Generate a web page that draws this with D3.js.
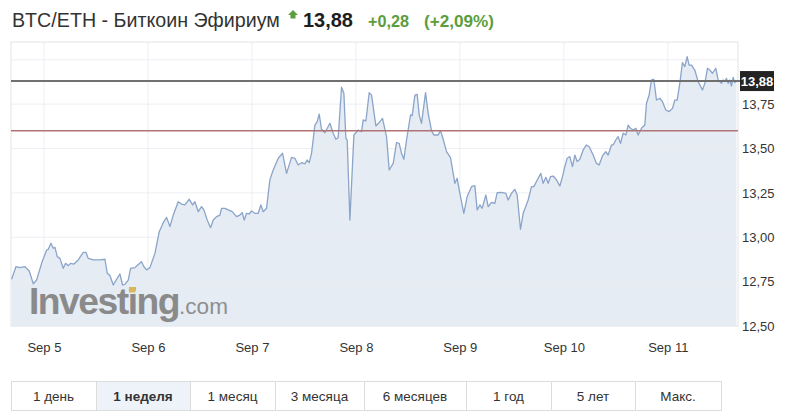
<!DOCTYPE html>
<html><head><meta charset="utf-8">
<script src="https://cdn.jsdelivr.net/npm/d3@7/dist/d3.min.js"></script>
<style>
body{margin:0;background:#fff;}
svg{display:block;font-family:"Liberation Sans",Arial,sans-serif;}
</style></head>
<body><svg id="c" width="800" height="416"></svg>
<script>
// ---- data (hours after 2018-09-05 00:00, price) ----
const hours = [-7.46,-6.46,-5.54,-4.38,-3.38,-2.46,-1.69,-0.54,0.62,1.0,1.62,2.15,2.54,3.08,3.69,4.46,5.0,5.62,6.15,6.92,7.92,9.08,9.69,10.23,11.38,12.92,14.08,14.62,15.23,16.0,16.77,17.54,18.15,18.69,19.46,20.0,21.0,21.77,22.54,23.08,23.69,24.46,25.62,26.62,27.54,28.31,29.08,29.85,31.0,31.77,32.54,33.54,34.31,34.85,35.62,36.38,36.92,37.69,38.46,39.08,39.85,40.62,41.0,41.77,42.54,43.46,44.46,45.23,45.77,46.23,46.77,47.38,47.92,48.69,49.46,50.08,50.62,51.38,52.15,52.92,54.08,55.08,56.0,57.15,57.92,58.69,59.46,60.23,60.77,61.23,61.77,62.54,63.08,63.54,64.08,64.85,66.0,66.77,67.38,67.92,68.69,69.23,69.69,70.0,70.62,71.54,72.54,73.31,73.69,74.31,75.08,75.62,76.62,77.54,78.15,79.08,79.69,80.62,81.38,82.0,82.54,83.08,83.69,84.62,85.0,85.62,86.15,86.62,87.15,88.08,88.69,89.46,90.0,91.0,91.54,92.15,92.92,93.85,94.46,94.85,95.38,96.0,96.92,97.69,98.69,99.46,100.0,100.62,101.15,102.0,102.54,103.31,104.08,104.62,105.62,106.62,107.15,107.92,108.69,109.23,110.0,110.62,111.77,112.54,113.08,114.08,114.69,115.23,115.85,116.38,116.92,117.54,118.31,119.08,119.69,120.23,120.77,121.38,122.0,122.54,123.08,123.69,124.46,125.23,125.85,126.77,127.54,128.15,128.92,129.69,130.23,131.0,131.38,132.0,132.54,133.08,133.69,134.31,134.85,135.38,136.0,136.62,137.15,137.92,138.69,139.08,139.69,140.23,140.77,141.38,142.15,142.77,143.54,144.31,145.08,145.62,146.15,146.77,147.38,147.92,148.46,148.92,149.46,150.23,151.0,152.0,152.54,153.15,153.69,154.31,155.08,155.62,156.38,156.77,157.15,157.54,157.92,158.31,158.69,159.08,159.46,159.85];
const prices = [12.763,12.834,12.829,12.834,12.810,12.737,12.759,12.853,12.928,12.932,12.966,12.938,12.943,12.891,12.881,12.825,12.853,12.840,12.853,12.849,12.872,12.915,12.915,12.881,12.872,12.872,12.876,12.797,12.784,12.731,12.763,12.793,12.731,12.735,12.759,12.825,12.829,12.847,12.862,12.834,12.816,12.829,12.909,13.031,13.082,13.112,13.060,13.125,13.200,13.187,13.182,13.214,13.182,13.200,13.144,13.172,13.154,13.097,13.054,13.097,13.116,13.125,13.163,13.163,13.154,13.144,13.116,13.125,13.139,13.097,13.135,13.131,13.148,13.135,13.135,13.182,13.144,13.163,13.323,13.379,13.445,13.473,13.360,13.450,13.445,13.407,13.420,13.413,13.435,13.420,13.473,13.632,13.651,13.694,13.608,13.589,13.642,13.586,13.552,13.561,13.845,13.811,13.557,13.548,13.097,13.576,13.604,13.595,13.661,13.655,13.815,13.801,13.627,13.651,13.670,13.567,13.379,13.416,13.533,13.529,13.473,13.439,13.548,13.689,13.685,13.801,13.805,13.689,13.642,13.815,13.698,13.601,13.576,13.576,13.601,13.552,13.482,13.448,13.360,13.304,13.332,13.247,13.135,13.229,13.285,13.291,13.154,13.182,13.163,13.238,13.172,13.197,13.191,13.251,13.253,13.247,13.210,13.247,13.270,13.238,13.045,13.135,13.210,13.285,13.285,13.332,13.360,13.304,13.338,13.304,13.341,13.345,13.323,13.289,13.341,13.398,13.445,13.454,13.398,13.463,13.426,13.439,13.492,13.520,13.510,13.463,13.416,13.407,13.458,13.482,13.463,13.520,13.520,13.548,13.567,13.529,13.586,13.576,13.632,13.614,13.604,13.614,13.576,13.614,13.632,13.755,13.801,13.886,13.890,13.773,13.783,13.764,13.717,13.708,13.726,13.773,13.773,13.867,13.984,13.961,14.017,13.970,13.970,13.942,13.877,13.830,13.867,13.952,13.942,13.924,13.952,13.886,13.867,13.886,13.877,13.895,13.867,13.886,13.852,13.901,13.871,13.88];
const xTickLabels = ["Sep 5","Sep 6","Sep 7","Sep 8","Sep 9","Sep 10","Sep 11"];
const xTickDays = [5,6,7,8,9,10,11];
const yGridValues = [12.5,12.75,13.0,13.25,13.5,13.75,14.0];
const yTickValues = [12.5,12.75,13.0,13.25,13.5,13.75];
const lastPrice = 13.88;
const prevClose = 13.60;
const titleName = "BTC/ETH - Биткоин Эфириум";
const titlePrice = "13,88";
const changeAbs = "+0,28";
const changePct = "(+2,09%)";
const periodLabels = ["1 день","1 неделя","1 месяц","3 месяца","6 месяцев","1 год","5 лет","Макс."];
const activePeriod = 1;

// ---- layout ----
const svg = d3.select("#c");
const L = 11, R = 738, T = 42, B = 326;
const base = Date.UTC(2018, 8, 5);
const toDate = h => new Date(base + h * 3600e3);
const data = hours.map((h, i) => ({t: toDate(h), v: prices[i]}));

const x = d3.scaleUtc().domain([toDate(-7.6), toDate(160.2)]).range([L, R]);
const y = d3.scaleLinear().domain([12.5, 14.1]).range([B, T]);

// plot background
svg.append("rect").attr("x", L).attr("y", T).attr("width", R - L).attr("height", B - T)
  .attr("fill", "#fff").attr("stroke", "#e4e4e4").attr("stroke-width", 1);

// area
svg.append("path").datum(data)
  .attr("fill", "#e5ecf4")
  .attr("d", d3.area().x(d => x(d.t)).y0(B).y1(d => y(d.v)));

// grid
const tickDates = xTickDays.map(d => new Date(Date.UTC(2018, 8, d)));
svg.append("g").selectAll("line").data(tickDates).join("line")
  .attr("x1", d => x(d)).attr("x2", d => x(d)).attr("y1", T).attr("y2", B)
  .attr("stroke", "#e8ecf1").attr("stroke-width", 1).attr("opacity", 0.8);
svg.append("g").selectAll("line").data(yGridValues).join("line")
  .attr("x1", L).attr("x2", R).attr("y1", d => y(d)).attr("y2", d => y(d))
  .attr("stroke", "#e8ecf1").attr("stroke-width", 1).attr("opacity", 0.8);

// watermark
const wm = svg.append("text").attr("x", 29).attr("y", 314)
  .attr("fill", "#8a8a8a").attr("font-family", "Liberation Sans, Arial, sans-serif");
const wm1 = wm.append("tspan").text("Investing").attr("font-weight", "bold").attr("font-size", 40).attr("letter-spacing", -1.5);
const wm2 = wm.append("tspan").text(".com").attr("font-size", 24).attr("fill", "#8f8f8f");
(function(){
  const w1 = wm1.node().getComputedTextLength();
  const s = 151 / w1;
  wm1.attr("font-size", 40 * s);
  const w2 = wm2.node().getComputedTextLength();
  wm2.attr("font-size", 24 * 49 / w2);
  try {
    const ext = wm.node().getExtentOfChar(6);
    svg.append("rect").attr("x", ext.x + ext.width/2 - 3.2).attr("y", 287).attr("width", 6.4).attr("height", 5.5).attr("fill", "#d8b85a");
  } catch(e) {}
})();

// line
svg.append("path").datum(data)
  .attr("fill", "none").attr("stroke", "#8ba4c9").attr("stroke-width", 1.3)
  .attr("stroke-linejoin", "round")
  .attr("d", d3.line().x(d => x(d.t)).y(d => y(d.v)));

// reference lines
svg.append("line").attr("x1", L).attr("x2", R).attr("y1", y(prevClose)).attr("y2", y(prevClose))
  .attr("stroke", "#b07474").attr("stroke-width", 1.5);
svg.append("line").attr("x1", L).attr("x2", R + 2).attr("y1", y(lastPrice)).attr("y2", y(lastPrice))
  .attr("stroke", "#707070").attr("stroke-width", 2);

// y axis
const yAxis = d3.axisRight(y).tickValues(yTickValues).tickSize(0).tickPadding(0)
  .tickFormat(d => d3.format(".2f")(d).replace(".", ","));
const ya = svg.append("g").attr("transform", `translate(${R + 4},0)`).call(yAxis);
ya.select(".domain").remove();
ya.selectAll("text").attr("fill", "#333").attr("font-size", 13).attr("font-family", "Liberation Sans, Arial, sans-serif");

// last price label
const ly = y(lastPrice);
svg.append("rect").attr("x", R + 2).attr("y", ly - 10).attr("width", 34).attr("height", 20).attr("fill", "#232323");
svg.append("text").attr("x", R + 19).attr("y", ly + 4.5).attr("text-anchor", "middle")
  .attr("fill", "#fff").attr("font-weight", "bold").attr("font-size", 13).text(d3.format(".2f")(lastPrice).replace(".", ","));

// x axis
const xAxis = d3.axisBottom(x).tickValues(tickDates).tickSize(0).tickPadding(0)
  .tickFormat((d, i) => xTickLabels[i]);
const xa = svg.append("g").attr("transform", `translate(0,${B + 17})`).call(xAxis);
xa.select(".domain").remove();
xa.selectAll("text").attr("fill", "#333").attr("font-size", 13).attr("font-family", "Liberation Sans, Arial, sans-serif");

// title
function fit(sel, w, fs) {
  const m = sel.node().getComputedTextLength();
  sel.attr("font-size", fs * w / m);
}
const t1 = svg.append("text").attr("x", 12).attr("y", 27).attr("fill", "#333").attr("font-size", 18).text(titleName);
fit(t1, 268, 18);
svg.append("path").attr("d", "M293,10 L298,15 L295.5,15 L295.5,18.5 L290.5,18.5 L290.5,15 L288,15 Z").attr("fill", "#5b9e3b");
const t2 = svg.append("text").attr("x", 303).attr("y", 27).attr("fill", "#1e1e1e").attr("font-weight", "bold").attr("font-size", 18).text(titlePrice);
fit(t2, 50, 18);
const t3 = svg.append("text").attr("x", 368).attr("y", 27).attr("fill", "#5b9e3b").attr("font-weight", "bold").attr("font-size", 16).text(changeAbs);
fit(t3, 41, 16);
const t4 = svg.append("text").attr("x", 424).attr("y", 27).attr("fill", "#5b9e3b").attr("font-weight", "bold").attr("font-size", 16).text(changePct);
fit(t4, 70, 16);

// period buttons
const edges = [11, 96, 190, 275, 364, 466, 551, 635, 721];
const by = 381, bh = 29;
const bg = svg.append("g");
periodLabels.forEach((lab, i) => {
  const x0 = edges[i], x1 = edges[i + 1];
  bg.append("rect").attr("x", x0 + 0.5).attr("y", by + 0.5).attr("width", x1 - x0).attr("height", bh)
    .attr("fill", i === activePeriod ? "#eef3fa" : "#fff").attr("stroke", "#dcdcdc");
  bg.append("text").attr("x", (x0 + x1) / 2).attr("y", by + 20).attr("text-anchor", "middle")
    .attr("font-size", 13.5).attr("fill", "#333").attr("font-weight", i === activePeriod ? "bold" : "normal").text(lab);
});
</script></body></html>
